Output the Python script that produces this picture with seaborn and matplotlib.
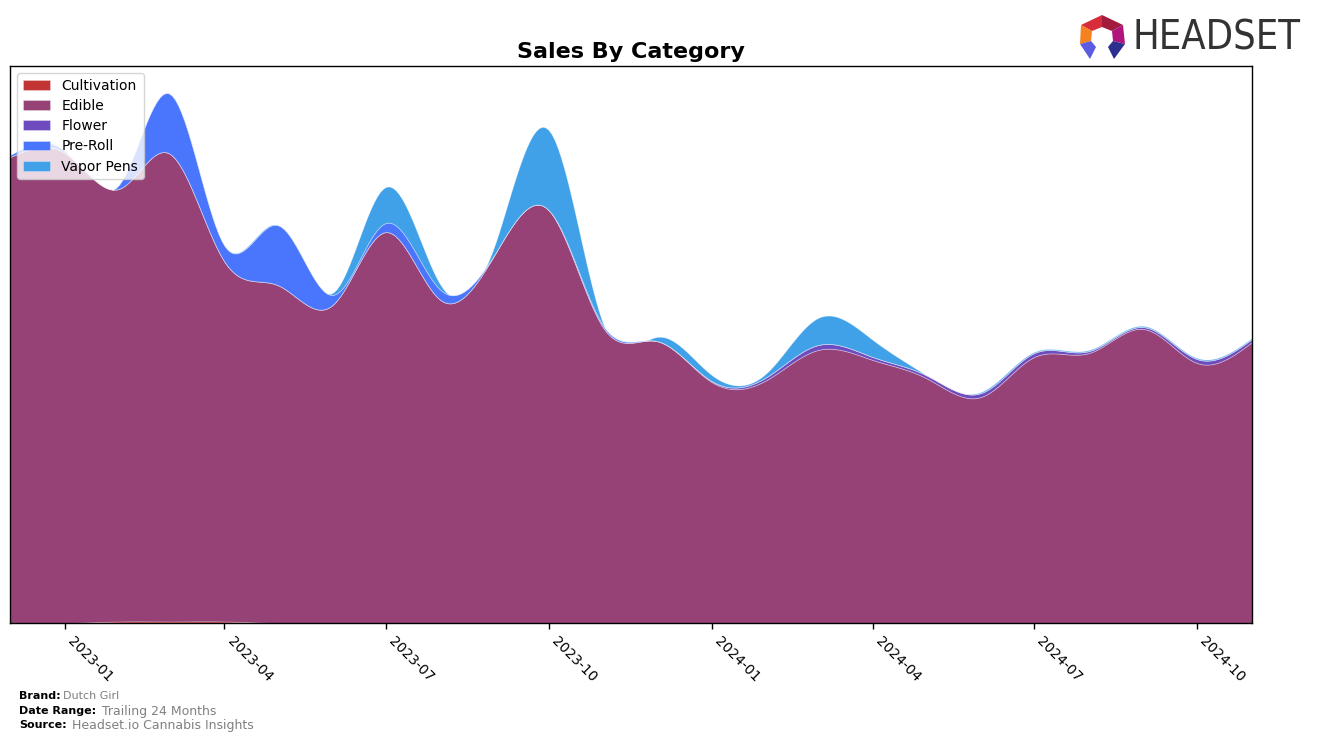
import numpy as np
import pandas as pd
import matplotlib
matplotlib.use("Agg")
import matplotlib.pyplot as plt
import matplotlib.dates as mdates
from matplotlib.patches import Polygon
import seaborn as sns

# ---------------- data ----------------
months = pd.date_range("2022-12-01", "2024-11-01", freq="MS")
categories = ["Cultivation", "Edible", "Flower", "Pre-Roll", "Vapor Pens"]
cultivation = [0, 0, 1.5, 1.5, 1.5, 0, 0, 0, 0, 0, 0, 0, 0, 0, 0, 0, 0, 0, 0, 0, 0, 0, 0, 0]
edible = [466, 470, 433, 468, 360, 338, 318, 391, 323, 370, 413, 295,
          282, 241, 243, 273, 263, 245, 226, 266, 270, 294, 260, 281]
flower = [0, 0, 0, 0, 0, 0, 0, 0, 0, 0, 0, 0,
          0, 1, 3, 5, 3, 3, 4, 4, 2, 2, 4, 3]
preroll = [2, 2, 5, 60, 16, 60, 10, 9, 10, 0, 0, 2,
           0, 0, 0, 0, 0, 0, 0, 0, 0, 0, 0, 0]
vapor = [0, 0, 0, 0, 0, 0, 2, 36, 5, 10, 80, 1,
         4, 6, 4, 27, 17, 0, 1, 1, 1, 1, 1, 1]
colors = ["#c23434", "#964276", "#6e4bbe", "#4a76fe", "#40a0e8"]
xtick_dates = pd.date_range("2023-01-01", "2024-10-01", freq="3MS")

# ---------------- smoothing for display ----------------
def natural_spline(x, y, xs):
    x = np.asarray(x, float); y = np.asarray(y, float)
    n = len(x); h = np.diff(x)
    A = np.zeros((n, n)); b = np.zeros(n)
    A[0, 0] = 1; A[-1, -1] = 1
    for i in range(1, n - 1):
        A[i, i - 1] = h[i - 1]; A[i, i] = 2 * (h[i - 1] + h[i]); A[i, i + 1] = h[i]
        b[i] = 3 * ((y[i + 1] - y[i]) / h[i] - (y[i] - y[i - 1]) / h[i - 1])
    c = np.linalg.solve(A, b)
    idx = np.clip(np.searchsorted(x, xs) - 1, 0, n - 2)
    dx = xs - x[idx]
    bc = (y[idx + 1] - y[idx]) / h[idx] - h[idx] * (2 * c[idx] + c[idx + 1]) / 3
    d = (c[idx + 1] - c[idx]) / (3 * h[idx])
    return y[idx] + bc * dx + c[idx] * dx ** 2 + d * dx ** 3

xnum = mdates.date2num(months.to_pydatetime())
xs = np.linspace(xnum[0], xnum[-1], 400)
series = [cultivation, edible, flower, preroll, vapor]
smooth = [np.clip(natural_spline(xnum, s, xs), 0, None) for s in series]

# ---------------- figure ----------------
sns.set_theme(style="ticks", rc={"text.color": "black", "axes.labelcolor": "black",
                                 "xtick.color": "black", "ytick.color": "black",
                                 "axes.edgecolor": "black"})
plt.rcParams["font.family"] = ["DejaVu Sans"]
fig = plt.figure(figsize=(13.17, 7.42), dpi=100)
ax = fig.add_axes([10 / 1317, 1 - 623 / 742, (1252 - 10) / 1317, (623 - 66) / 742])

ax.stackplot(xs, *smooth, labels=categories, colors=colors,
             edgecolor=(1, 1, 1, 0.35), linewidth=0.6)
ax.set_xlim(xnum[0], xnum[-1])
ax.set_ylim(0, 557)
ax.set_yticks([])
ax.set_xticks(mdates.date2num(xtick_dates.to_pydatetime()))
ax.set_xticklabels([d.strftime("%Y-%m") for d in xtick_dates],
                   rotation=-45, ha="left", fontsize=10, color="black")
ax.tick_params(axis="x", length=4, width=1, color="black", pad=4)
for sp in ax.spines.values():
    sp.set_visible(True); sp.set_color("black"); sp.set_linewidth(1)
ax.set_title("Sales By Category", fontsize=16, fontweight="bold", pad=6, color="black")
leg = ax.legend(loc="upper left", fontsize=10, frameon=True, framealpha=0.8,
                borderpad=0.4, labelspacing=0.45, handlelength=2.0)
leg.get_frame().set_edgecolor("#cccccc")
for txt in leg.get_texts():
    txt.set_color("black")

# ---------------- footer ----------------
def fx(px): return px / 1317
def fy(py): return 1 - py / 742
fig.text(fx(19), fy(696), "Brand:", fontsize=8, fontweight="bold", va="center")
fig.text(fx(63), fy(696), "Dutch Girl", fontsize=8, color="gray", va="center")
fig.text(fx(19), fy(711), "Date Range:", fontsize=8, fontweight="bold", va="center")
fig.text(fx(102), fy(711), "Trailing 24 Months", fontsize=9, color="gray", va="center")
fig.text(fx(19), fy(725), "Source:", fontsize=8, fontweight="bold", va="center")
fig.text(fx(72), fy(725), "Headset.io Cannabis Insights", fontsize=9, color="gray", va="center")

# ---------------- logo ----------------
T, UR, LR, BR = (1102, 15), (1123, 25), (1125, 44), (1114, 59)
UL, LL, BL = (1081, 25), (1080, 44), (1090, 59)
t, ur, lr, br = (1102, 27), (1112, 31), (1113, 41), (1108, 47)
ul, ll, bl = (1092, 31), (1091, 41), (1096, 47)
polys = [([T, UR, ur, t], "#a31b3d"), ([UL, T, t, ul], "#d72c3b"),
         ([UR, LR, lr, ur], "#b0157c"), ([UL, ul, ll, LL], "#f5821f"),
         ([LR, BR, br, lr], "#2c2f8e"), ([LL, ll, bl, BL], "#5b5ce0")]
for pts, col in polys:
    fig.patches.append(Polygon([(fx(a), fy(b)) for a, b in pts], closed=True,
                               transform=fig.transFigure, facecolor=col, edgecolor="none"))
fig.text(fx(1133), fy(38), "HEADSET", fontsize=28.5, color="#333333", va="center", ha="left",
         family=["DejaVu Sans"], fontstretch="condensed")

fig.savefig("out.png", dpi=100)
